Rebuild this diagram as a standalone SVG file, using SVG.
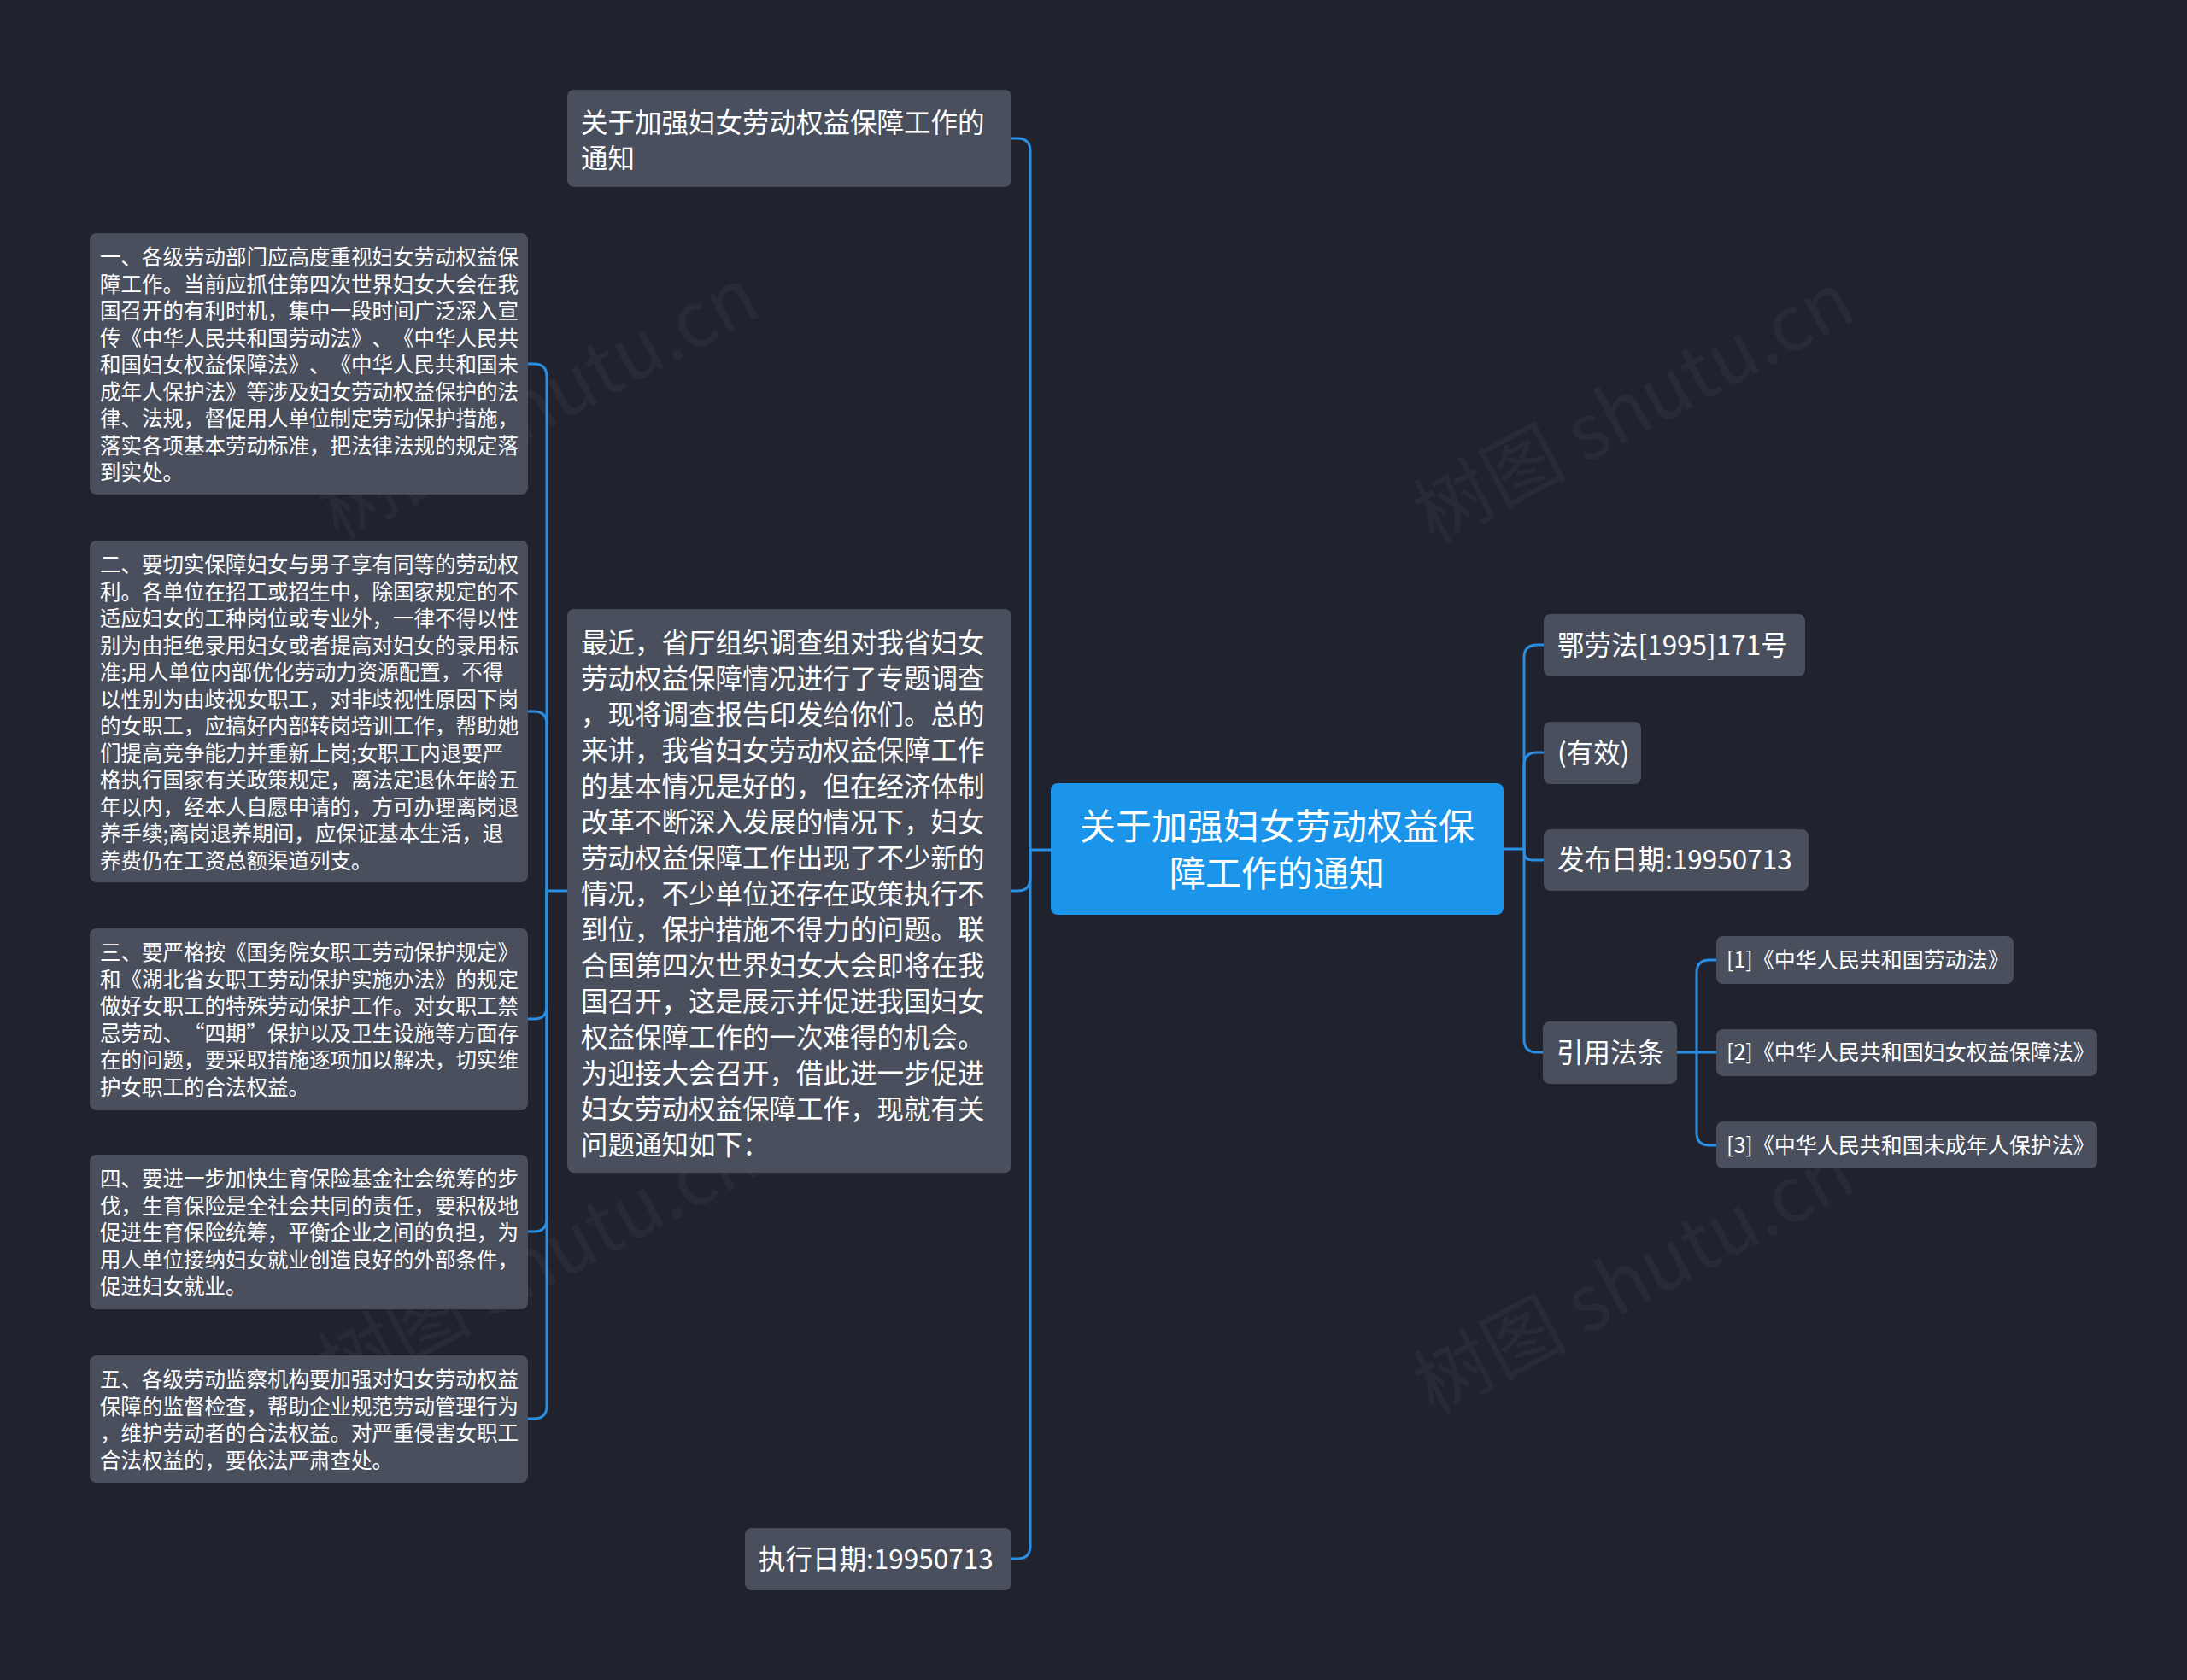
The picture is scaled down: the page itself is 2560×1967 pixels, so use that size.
<svg xmlns="http://www.w3.org/2000/svg" width="2560" height="1967" viewBox="0 0 2560 1967">
<style>
.bg{fill:#20232e}
.nd{fill:#4a4f5e}
.root{fill:#1b95ea}
.t{font-family:"Noto Sans CJK SC","Noto Sans",sans-serif;fill:#ffffff;text-spacing-trim:space-all}
.s{font-size:24.5px}
.m{font-size:31.5px}
.r{font-size:42px}
.x{font-size:25px}
.fw{font-feature-settings:"fwid" 1}
.ln{fill:none;stroke:#2a8fe3;stroke-width:3;stroke-linecap:round}
.wm{font-family:"Noto Sans CJK SC","Noto Sans",sans-serif;font-size:90px;fill:#ffffff;opacity:0.035}
</style>
<rect class="bg" x="0" y="0" width="2560" height="1967"/>
<g id="watermarks">
<text class="wm" transform="translate(645 500) rotate(-28)" text-anchor="middle">树图 shutu.cn</text>
<text class="wm" transform="translate(1927 505) rotate(-28)" text-anchor="middle">树图 shutu.cn</text>
<text class="wm" transform="translate(645 1505) rotate(-28)" text-anchor="middle">树图 shutu.cn</text>
<text class="wm" transform="translate(1927 1525) rotate(-28)" text-anchor="middle">树图 shutu.cn</text>
</g>
<g id="connectors">
<path class="ln" d="M1230 995 H1206"/>
<path class="ln" d="M1206 995 V177 Q1206 162 1191 162 H1184"/>
<path class="ln" d="M1206 995 V1028 Q1206 1043 1191 1043 H1184"/>
<path class="ln" d="M1206 995 V1810 Q1206 1825 1191 1825 H1184"/>
<path class="ln" d="M664 1043 H640"/>
<path class="ln" d="M640 1043 V441 Q640 426 625 426 H618"/>
<path class="ln" d="M640 1043 V848 Q640 833 625 833 H618"/>
<path class="ln" d="M640 1043 V1178 Q640 1193 625 1193 H618"/>
<path class="ln" d="M640 1043 V1427 Q640 1442 625 1442 H618"/>
<path class="ln" d="M640 1043 V1646 Q640 1661 625 1661 H618"/>
<path class="ln" d="M1760 994 H1784"/>
<path class="ln" d="M1784 994 V770 Q1784 755 1799 755 H1807"/>
<path class="ln" d="M1784 994 V896 Q1784 881 1799 881 H1807"/>
<path class="ln" d="M1784 994 V997 Q1784 1007 1794 1007 H1807"/>
<path class="ln" d="M1784 994 V1217 Q1784 1232 1799 1232 H1807"/>
<path class="ln" d="M1963 1232 H1986"/>
<path class="ln" d="M1986 1232 V1139 Q1986 1124 2001 1124 H2009"/>
<path class="ln" d="M1986 1232 H2009"/>
<path class="ln" d="M1986 1232 V1326 Q1986 1341 2001 1341 H2009"/>
</g>
<g id="root">
<rect class="root" x="1230" y="917" width="530" height="154" rx="8"/>
<text class="t r" text-anchor="middle"><tspan x="1495" y="983">关于加强妇女劳动权益保</tspan><tspan x="1495" y="1038">障工作的通知</tspan></text>
</g>
<g id="n-title">
<rect class="nd" x="664" y="105" width="520" height="114" rx="8"/>
<text class="t m"><tspan x="680" y="155">关于加强妇女劳动权益保障工作的</tspan><tspan x="680" y="197">通知</tspan></text>
</g>
<g id="n-intro">
<rect class="nd" x="664" y="713" width="520" height="660" rx="8"/>
<text class="t m">
<tspan x="680" y="764">最近，省厅组织调查组对我省妇女</tspan>
<tspan x="680" y="806">劳动权益保障情况进行了专题调查</tspan>
<tspan x="680" y="848">，现将调查报告印发给你们。总的</tspan>
<tspan x="680" y="890">来讲，我省妇女劳动权益保障工作</tspan>
<tspan x="680" y="932">的基本情况是好的，但在经济体制</tspan>
<tspan x="680" y="974">改革不断深入发展的情况下，妇女</tspan>
<tspan x="680" y="1016">劳动权益保障工作出现了不少新的</tspan>
<tspan x="680" y="1058">情况，不少单位还存在政策执行不</tspan>
<tspan x="680" y="1100">到位，保护措施不得力的问题。联</tspan>
<tspan x="680" y="1142">合国第四次世界妇女大会即将在我</tspan>
<tspan x="680" y="1184">国召开，这是展示并促进我国妇女</tspan>
<tspan x="680" y="1226">权益保障工作的一次难得的机会。</tspan>
<tspan x="680" y="1268">为迎接大会召开，借此进一步促进</tspan>
<tspan x="680" y="1310">妇女劳动权益保障工作，现就有关</tspan>
<tspan x="680" y="1352">问题通知如下：</tspan>
</text>
</g>
<g id="n-1">
<rect class="nd" x="105" y="273" width="513" height="306" rx="8"/>
<text class="t s">
<tspan x="117" y="310">一、各级劳动部门应高度重视妇女劳动权益保</tspan>
<tspan x="117" y="341.5">障工作。当前应抓住第四次世界妇女大会在我</tspan>
<tspan x="117" y="373">国召开的有利时机，集中一段时间广泛深入宣</tspan>
<tspan x="117" y="404.5">传《中华人民共和国劳动法》、《中华人民共</tspan>
<tspan x="117" y="436">和国妇女权益保障法》、《中华人民共和国未</tspan>
<tspan x="117" y="467.5">成年人保护法》等涉及妇女劳动权益保护的法</tspan>
<tspan x="117" y="499">律、法规，督促用人单位制定劳动保护措施，</tspan>
<tspan x="117" y="530.5">落实各项基本劳动标准，把法律法规的规定落</tspan>
<tspan x="117" y="562">到实处。</tspan>
</text>
</g>
<g id="n-2">
<rect class="nd" x="105" y="633" width="513" height="400" rx="8"/>
<text class="t s">
<tspan x="117" y="670">二、要切实保障妇女与男子享有同等的劳动权</tspan>
<tspan x="117" y="701.5">利。各单位在招工或招生中，除国家规定的不</tspan>
<tspan x="117" y="733">适应妇女的工种岗位或专业外，一律不得以性</tspan>
<tspan x="117" y="764.5">别为由拒绝录用妇女或者提高对妇女的录用标</tspan>
<tspan x="117" y="796">准;用人单位内部优化劳动力资源配置，不得</tspan>
<tspan x="117" y="827.5">以性别为由歧视女职工，对非歧视性原因下岗</tspan>
<tspan x="117" y="859">的女职工，应搞好内部转岗培训工作，帮助她</tspan>
<tspan x="117" y="890.5">们提高竞争能力并重新上岗;女职工内退要严</tspan>
<tspan x="117" y="922">格执行国家有关政策规定，离法定退休年龄五</tspan>
<tspan x="117" y="953.5">年以内，经本人自愿申请的，方可办理离岗退</tspan>
<tspan x="117" y="985">养手续;离岗退养期间，应保证基本生活，退</tspan>
<tspan x="117" y="1016.5">养费仍在工资总额渠道列支。</tspan>
</text>
</g>
<g id="n-3">
<rect class="nd" x="105" y="1087" width="513" height="213" rx="8"/>
<text class="t s">
<tspan x="117" y="1124">三、要严格按《国务院女职工劳动保护规定》</tspan>
<tspan x="117" y="1155.5">和《湖北省女职工劳动保护实施办法》的规定</tspan>
<tspan x="117" y="1187">做好女职工的特殊劳动保护工作。对女职工禁</tspan>
<tspan x="117" y="1218.5">忌劳动、<tspan class="fw">“</tspan>四期<tspan class="fw">”</tspan>保护以及卫生设施等方面存</tspan>
<tspan x="117" y="1250">在的问题，要采取措施逐项加以解决，切实维</tspan>
<tspan x="117" y="1281.5">护女职工的合法权益。</tspan>
</text>
</g>
<g id="n-4">
<rect class="nd" x="105" y="1352" width="513" height="181" rx="8"/>
<text class="t s">
<tspan x="117" y="1389">四、要进一步加快生育保险基金社会统筹的步</tspan>
<tspan x="117" y="1420.5">伐，生育保险是全社会共同的责任，要积极地</tspan>
<tspan x="117" y="1452">促进生育保险统筹，平衡企业之间的负担，为</tspan>
<tspan x="117" y="1483.5">用人单位接纳妇女就业创造良好的外部条件，</tspan>
<tspan x="117" y="1515">促进妇女就业。</tspan>
</text>
</g>
<g id="n-5">
<rect class="nd" x="105" y="1587" width="513" height="149" rx="8"/>
<text class="t s">
<tspan x="117" y="1624">五、各级劳动监察机构要加强对妇女劳动权益</tspan>
<tspan x="117" y="1655.5">保障的监督检查，帮助企业规范劳动管理行为</tspan>
<tspan x="117" y="1687">，维护劳动者的合法权益。对严重侵害女职工</tspan>
<tspan x="117" y="1718.5">合法权益的，要依法严肃查处。</tspan>
</text>
</g>
<g id="n-exec">
<rect class="nd" x="872" y="1789" width="312" height="73" rx="8"/>
<text class="t m" x="888" y="1837">执行日期:19950713</text>
</g>
<g id="n-code">
<rect class="nd" x="1807" y="719" width="306" height="73" rx="8"/>
<text class="t m" x="1823" y="767">鄂劳法[1995]171号</text>
</g>
<g id="n-valid">
<rect class="nd" x="1807" y="845" width="114" height="73" rx="8"/>
<text class="t m" x="1823" y="893">(有效)</text>
</g>
<g id="n-pub">
<rect class="nd" x="1807" y="971" width="310" height="72" rx="8"/>
<text class="t m" x="1823" y="1018">发布日期:19950713</text>
</g>
<g id="n-cite">
<rect class="nd" x="1806" y="1196" width="157" height="73" rx="8"/>
<text class="t m" x="1822" y="1244">引用法条</text>
</g>
<g id="n-law1">
<rect class="nd" x="2009" y="1096" width="348" height="56" rx="8"/>
<text class="t x" x="2021" y="1133">[1]《中华人民共和国劳动法》</text>
</g>
<g id="n-law2">
<rect class="nd" x="2009" y="1205" width="446" height="55" rx="8"/>
<text class="t x" x="2021" y="1241">[2]《中华人民共和国妇女权益保障法》</text>
</g>
<g id="n-law3">
<rect class="nd" x="2009" y="1313" width="446" height="55" rx="8"/>
<text class="t x" x="2021" y="1350">[3]《中华人民共和国未成年人保护法》</text>
</g>
</svg>
